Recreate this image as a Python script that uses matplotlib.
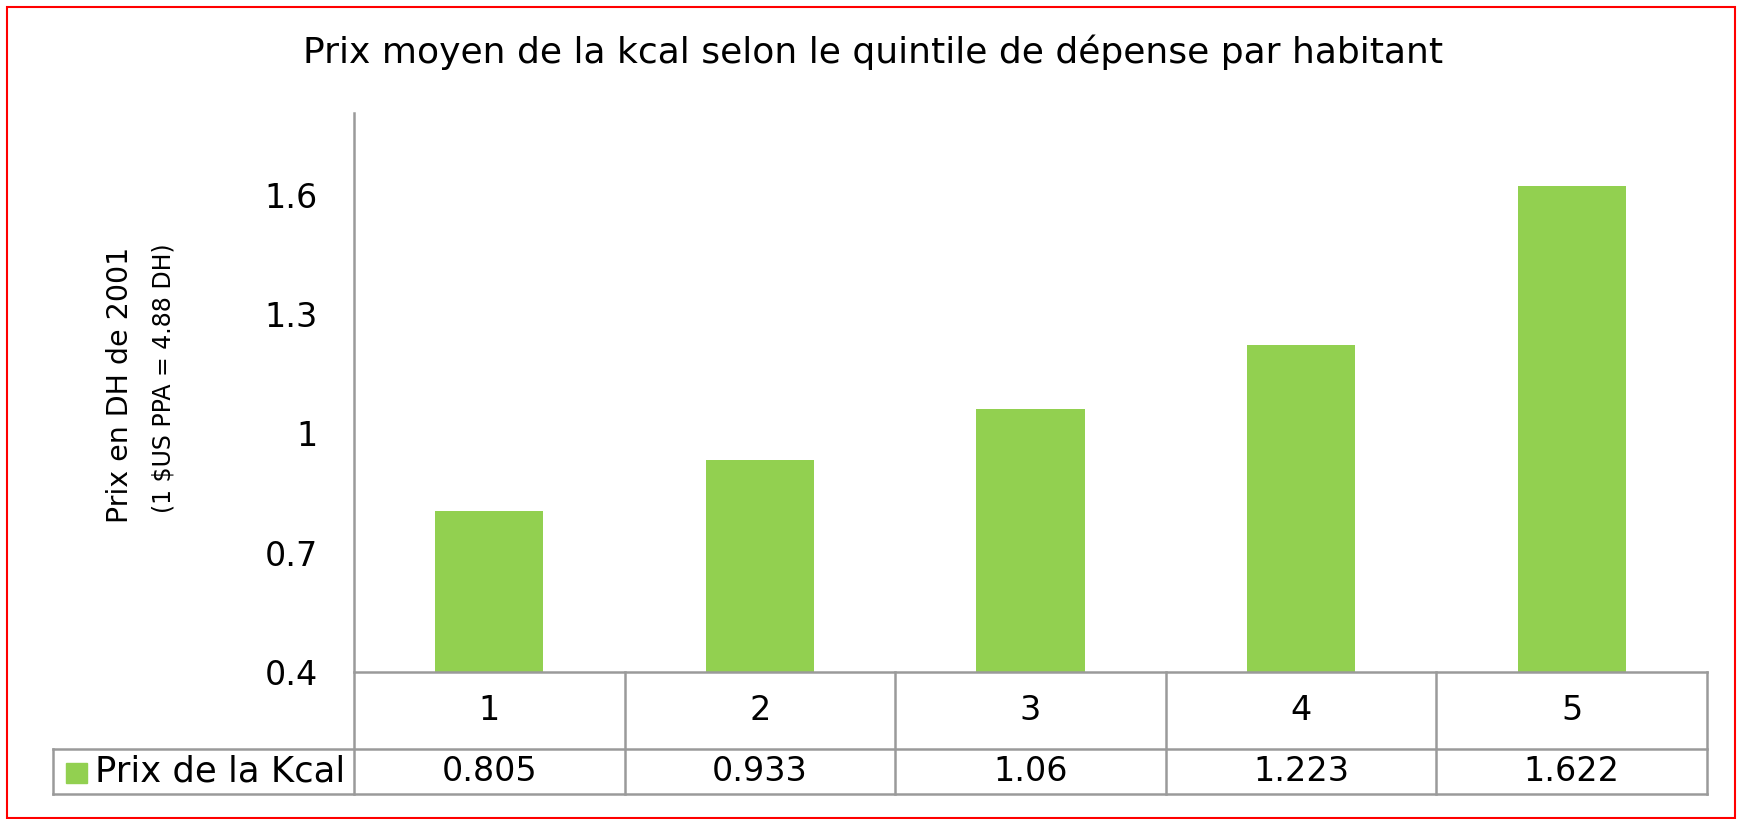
import matplotlib
matplotlib.use("Agg")
import matplotlib.pyplot as plt
import matplotlib.patches as patches
import matplotlib.transforms as transforms

# data
quintiles = ["1", "2", "3", "4", "5"]
prix_kcal = [0.805, 0.933, 1.06, 1.223, 1.622]
series_name = "Prix de la Kcal"
yticks = [0.4, 0.7, 1.0, 1.3, 1.6]

title = "Prix moyen de la kcal selon le quintile de dépense par habitant"
ylabel1 = "Prix en DH de 2001"
ylabel2 = "(1 $US PPA = 4.88 DH)"

W, H = 1737, 819
GREEN = "#92D050"
GRID = "#9a9a9a"
plt.rcParams['font.family'] = ['DejaVu Sans']

def fx(px):
    return px / W

def fy(py):
    return 1 - py / H

fig = plt.figure(figsize=(W / 100, H / 100), dpi=100)
ax_left, ax_right, ax_top, ax_bot = 354, 1707, 113, 672
ax = fig.add_axes([fx(ax_left), fy(ax_bot), fx(ax_right - ax_left), (ax_bot - ax_top) / H])

x = list(range(len(quintiles)))
ax.bar(x, prix_kcal, width=0.4, color=GREEN, bottom=0, zorder=2)
ax.set_xlim(-0.5, len(quintiles) - 0.5)
ax.set_ylim(0.4, 1.805)
ax.set_yticks(yticks)
ax.set_yticklabels([f"{t:g}" for t in yticks], fontsize=24)
ax.set_xticks([])
ax.tick_params(axis='y', length=0, pad=26)
for s in ax.spines.values():
    s.set_visible(False)

# table under the axis
axh = ax_bot - ax_top
r1 = -(749 - ax_bot) / axh
r2 = -(794 - ax_bot) / axh
col_w = (ax_right - ax_left) / len(quintiles)
xleft = -0.5 - (ax_left - 53) / col_w
xr = len(quintiles) - 0.5
tr = transforms.blended_transform_factory(ax.transData, ax.transAxes)

def line(xs, ys):
    ax.plot(xs, ys, transform=tr, color=GRID, lw=1.8, clip_on=False, zorder=3)

line([-0.5, xr], [0, 0])
line([xleft, xr], [r1, r1])
line([xleft, xr], [r2, r2])
line([-0.5, -0.5], [1, r2])
line([xleft, xleft], [r1, r2])
for i in range(len(quintiles)):
    line([i + 0.5, i + 0.5], [0, r2])

for i, (q, v) in enumerate(zip(quintiles, prix_kcal)):
    ax.text(i, r1 / 2, q, transform=tr, ha='center', va='center', fontsize=24)
    ax.text(i, (r1 + r2) / 2, f"{v:g}", transform=tr, ha='center', va='center', fontsize=24)

# legend key in first cell
row2_mid = (749 + 794) / 2
fig.patches.append(patches.Rectangle((fx(66), fy(783)), fx(21), 20 / H,
                                     transform=fig.transFigure, color=GREEN))
fig.text(fx(95), fy(row2_mid), series_name, ha='left', va='center', fontsize=25.5)

# titles
fig.text(fx(873), fy(52), title, ha='center', va='center', fontsize=26)
fig.text(fx(120), fy(385), ylabel1, rotation=90, ha='center', va='center', fontsize=20.5)
fig.text(fx(163), fy(378), ylabel2, rotation=90, ha='center', va='center', fontsize=17)

# red frame
fig.patches.append(patches.Rectangle((fx(7), fy(818)), fx(1735 - 7), (818 - 7) / H,
                                     transform=fig.transFigure, fill=False, edgecolor='red', lw=1.5))

fig.savefig("out.png", dpi=100)
